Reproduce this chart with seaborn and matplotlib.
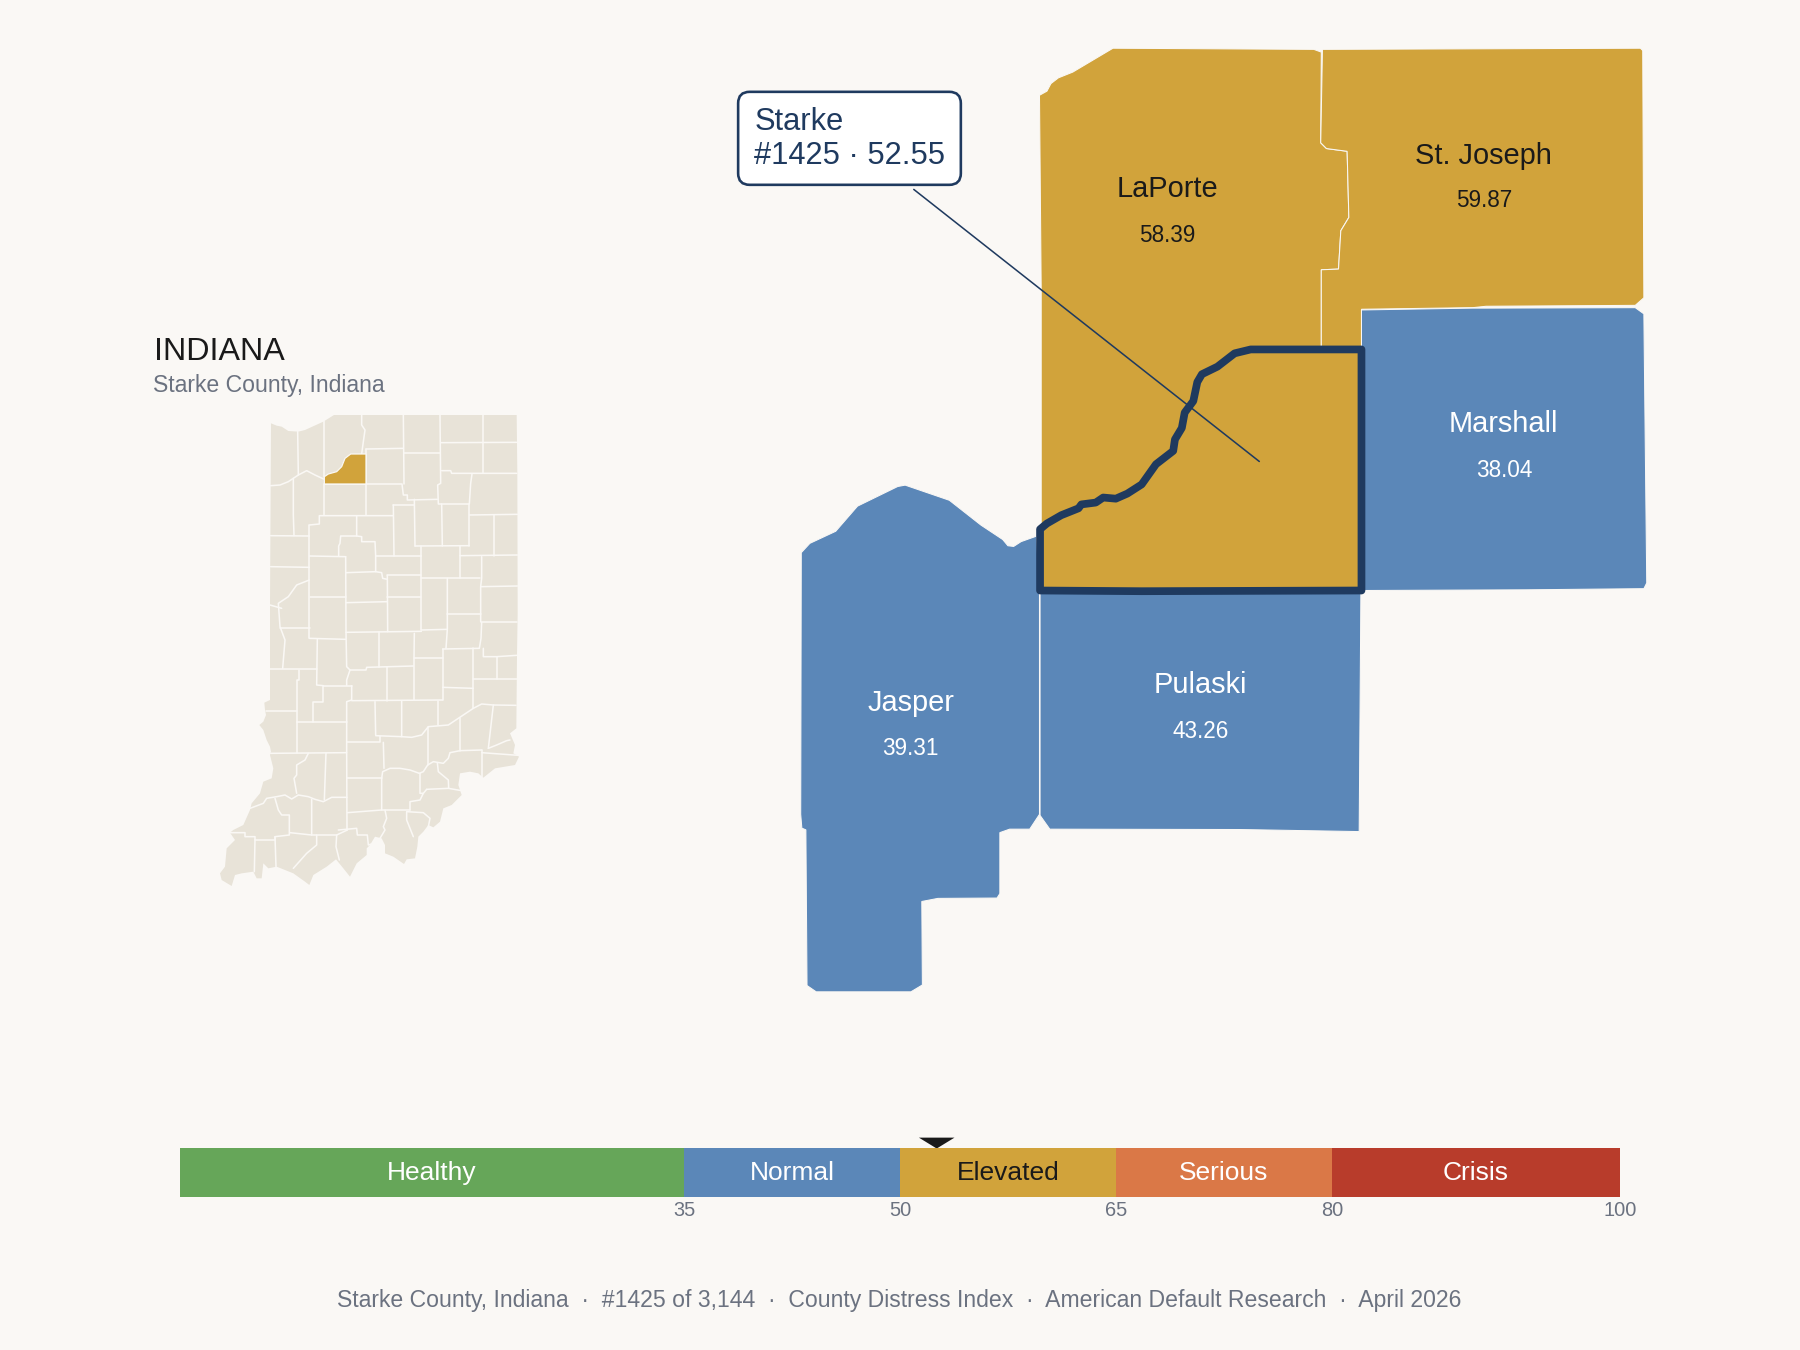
import matplotlib.pyplot as plt
import seaborn as sns

BG = '#FAF8F5'
GOLD = '#D1A33B'
BLUE = '#5B87B8'
NAVY = '#1F3A5F'
GREY = '#6B7280'
INK = '#1A1A1A'
STATE_FILL = '#E8E3D8'

# neighbour county shapes
laporte = [(969.5, 42), (1144.5, 43), (1151, 45.4), (1150.5, 124.4), (1155.5, 129.4), (1173.5, 131.8),
           (1175, 189.4), (1168, 201), (1166, 234.4), (1151, 235), (1151, 304), (1100, 350), (1050, 420),
           (950, 470), (907, 470), (907, 253), (905.5, 83), (912, 79.4), (915.5, 72.8), (922, 67.8), (934.5, 62.8)]
st_joseph = [(1152, 43), (1429, 42), (1431, 44), (1432, 259.4), (1424.5, 266), (1294.5, 266.8), (1283, 268),
             (1186, 269.4), (1186, 304), (1151, 304), (1151, 235), (1166, 234.4), (1168, 201), (1175, 189.4),
             (1173.5, 131.8), (1155.5, 129.4), (1150.5, 124.4)]
marshall = [(1186, 270), (1283, 268.4), (1294.5, 268.4), (1424.5, 268), (1432, 273.4), (1434.5, 507.8),
            (1432, 512.8), (1329, 513.8), (1186, 514.4)]
pulaski = [(906, 515), (1185.5, 515), (1184, 724.4), (1079.5, 722.6), (914.5, 722.3), (906, 710.3)]
jasper = [(698, 481.4), (705.5, 473.3), (728, 462.8), (747, 440.9), (782, 423.8), (788.5, 422.6), (827, 435.8),
          (854.5, 457.4), (873.5, 470), (878, 475.4), (883, 476), (889.5, 471.8), (903, 467), (905.5, 516),
          (905.5, 709.4), (897, 722.3), (879.5, 722.3), (871, 725.3), (871, 778.4), (868.5, 782.3), (817, 782.6),
          (803, 785.3), (803.5, 858), (793.5, 864), (711, 864), (703, 858.5), (702, 722.9), (698.5, 721.4),
          (697.5, 709.4)]
starke = [(906, 461), (912, 456), (924.5, 448.8), (939.5, 442.8), (942, 439.4), (954.5, 437.8), (961, 433.4),
          (972, 434.4), (982, 430), (994.5, 422), (1007, 404.4), (1022, 392.8), (1023.5, 382.8), (1029.5, 372.8),
          (1032, 359.4), (1039.5, 349.4), (1043, 332.8), (1047, 326), (1060.5, 319.4), (1075.5, 307.8),
          (1089.5, 304.4), (1186, 304.4), (1186, 514.4), (994.5, 515), (906, 514.4)]

names = ['LaPorte', 'St. Joseph', 'Marshall', 'Jasper', 'Pulaski']
scores = ['58.39', '59.87', '38.04', '39.31', '43.26']
shapes = [laporte, st_joseph, marshall, jasper, pulaski]
shape_colors = [GOLD, GOLD, BLUE, BLUE, BLUE]
text_colors = [INK, INK, 'white', 'white', 'white']
name_xy = [(1017, 164.5), (1292.5, 135.5), (1309.5, 369.5), (794, 612.5), (1045.5, 596.5)]
score_xy = [(1017, 205), (1293, 175), (1310, 410), (793, 652), (1046, 637)]

# state locator
state_outline = [(213, 70), (230, 77), (245, 80), (265, 93), (295, 95), (315, 90), (370, 65), (402, 45), (950, 45),
                 (952, 220), (953, 640), (951, 765), (949, 985), (930, 1000), (945, 1035), (940, 1060), (957, 1070),
                 (945, 1095), (885, 1105), (850, 1133), (835, 1120), (810, 1115), (780, 1120), (775, 1155), (785, 1185),
                 (755, 1215), (730, 1225), (720, 1265), (700, 1282), (685, 1275), (670, 1295), (655, 1310), (652, 1340),
                 (645, 1375), (620, 1378), (612, 1392), (580, 1370), (555, 1360), (555, 1335), (545, 1315), (525, 1310),
                 (510, 1335), (500, 1345), (500, 1365), (470, 1390), (450, 1430), (430, 1405), (408, 1378), (380, 1400),
                 (340, 1425), (328, 1455), (315, 1445), (280, 1420), (230, 1400), (205, 1405), (190, 1390), (185, 1435),
                 (170, 1435), (160, 1415), (125, 1420), (105, 1425), (95, 1458), (65, 1440), (60, 1420), (75, 1400),
                 (80, 1345), (105, 1320), (90, 1298), (100, 1290), (130, 1275), (150, 1230), (155, 1210), (180, 1180),
                 (190, 1145), (215, 1135), (220, 1105), (210, 1065), (213, 1055), (210, 1040), (200, 1020), (190, 990),
                 (178, 975), (190, 965), (198, 945), (195, 930), (193, 908), (210, 900), (210, 620)]
state_starke = [(373, 230), (385, 222), (410, 215), (425, 200), (435, 175), (452, 162), (498, 162), (498, 252), (373, 252)]
county_lines = [
    [(293, 95), (295, 225)], [(373, 63), (373, 230)],
    [(212, 257), (240, 255), (265, 245), (295, 225), (320, 212), (345, 225), (373, 238)],
    [(485, 45), (485, 75), (495, 90), (490, 125), (485, 162)], [(498, 147), (610, 145)],
    [(610, 45), (612, 252)], [(612, 160), (720, 160)], [(720, 45), (722, 250), (713, 255), (715, 312), (808, 312), (812, 250), (816, 222)],
    [(848, 45), (848, 220)], [(722, 128), (950, 127)], [(725, 212), (752, 212), (755, 220), (950, 220)],
    [(498, 147), (498, 345)], [(373, 252), (606, 252), (610, 285), (622, 285), (622, 300), (712, 298)],
    [(373, 252), (373, 345)], [(280, 235), (280, 345), (282, 407)], [(212, 407), (328, 408)],
    [(328, 375), (358, 372), (358, 347), (580, 347)], [(328, 375), (328, 715)], [(580, 315), (643, 315)],
    [(580, 315), (582, 468)], [(643, 298), (645, 438)], [(725, 312), (727, 438)], [(808, 312), (808, 438)],
    [(645, 438), (808, 437)], [(808, 345), (952, 343)], [(881, 345), (881, 467)], [(780, 467), (952, 465)],
    [(780, 438), (780, 535)], [(664, 438), (664, 690)],
    [(470, 347), (470, 408), (485, 410), (485, 425), (525, 425), (527, 468), (664, 468)],
    [(470, 408), (422, 408), (420, 430), (416, 438), (416, 468)], [(328, 468), (437, 470)],
    [(437, 470), (438, 695), (440, 800), (450, 810), (440, 840), (440, 856)], [(527, 468), (527, 515), (438, 518)],
    [(527, 515), (545, 518), (548, 535), (562, 538)], [(562, 526), (664, 526)], [(562, 526), (563, 695)],
    [(562, 592), (664, 592)], [(438, 608), (562, 605)], [(330, 592), (437, 592)], [(328, 715), (437, 718)],
    [(438, 697), (664, 694)], [(664, 690), (742, 688)], [(664, 535), (840, 535)],
    [(845, 470), (845, 535), (842, 560), (842, 665)], [(742, 535), (742, 688), (738, 745)], [(742, 642), (842, 642)],
    [(842, 560), (952, 558)], [(842, 667), (950, 667)], [(845, 667), (843, 715), (838, 745), (728, 747)],
    [(643, 700), (642, 775), (642, 900)], [(538, 697), (538, 800)], [(642, 775), (728, 775)], [(728, 747), (728, 900)],
    [(728, 862), (820, 865)], [(820, 745), (820, 925)], [(850, 745), (850, 770), (890, 770), (950, 766)],
    [(890, 770), (890, 838)], [(820, 838), (950, 838)], [(450, 810), (498, 810), (500, 802), (640, 798)],
    [(560, 800), (560, 902)], [(455, 857), (370, 857), (370, 905), (340, 905), (340, 965)],
    [(352, 718), (350, 855), (370, 857)], [(210, 808), (352, 808)], [(298, 810), (298, 840), (290, 840), (290, 965)],
    [(455, 857), (455, 900), (440, 905)], [(440, 905), (440, 1060), (441, 1290)], [(455, 902), (728, 900)],
    [(525, 905), (527, 1005)], [(605, 902), (605, 1010), (527, 1007)], [(713, 902), (713, 975)],
    [(198, 932), (290, 932)], [(290, 965), (440, 965)], [(290, 965), (290, 1058)], [(212, 1060), (440, 1058)],
    [(820, 925), (845, 912), (880, 915), (948, 916)],
    [(820, 925), (745, 975), (685, 980), (665, 1005), (635, 1012), (605, 1010)], [(880, 915), (865, 1045)],
    [(780, 955), (780, 1052)], [(683, 980), (683, 1095)], [(541, 1007), (541, 1027), (442, 1027)],
    [(550, 1027), (552, 1105)], [(442, 1135), (545, 1135)], [(865, 1045), (890, 1035), (920, 1022), (930, 1020)],
    [(845, 1050), (780, 1052), (750, 1058), (745, 1075), (730, 1090), (700, 1085), (683, 1095), (670, 1115), (658, 1120),
     (630, 1110), (600, 1105), (570, 1105), (548, 1115), (545, 1135), (545, 1230)],
    [(845, 1050), (845, 1130)], [(845, 1058), (955, 1066)], [(660, 1120), (660, 1180), (670, 1180), (660, 1200), (630, 1205), (630, 1230)],
    [(712, 1088), (715, 1115), (745, 1140), (746, 1165)], [(680, 1168), (745, 1165), (785, 1172)],
    [(670, 1180), (680, 1168)], [(630, 1230), (545, 1230), (442, 1238)],
    [(620, 1235), (620, 1260), (640, 1310)], [(620, 1235), (670, 1238), (690, 1255), (685, 1280)],
    [(555, 1230), (560, 1255), (550, 1280), (555, 1290), (540, 1315)], [(378, 1058), (373, 1200)],
    [(325, 1060), (315, 1080), (290, 1095), (290, 1125), (282, 1135), (290, 1180)],
    [(150, 1225), (190, 1210), (200, 1195), (230, 1190), (255, 1185), (275, 1197), (295, 1185), (325, 1190), (345, 1198),
     (370, 1205), (395, 1192), (441, 1192)],
    [(225, 1195), (235, 1230), (245, 1245), (268, 1245), (268, 1305), (225, 1310), (225, 1320), (165, 1320), (165, 1310),
     (135, 1310), (135, 1298), (90, 1298)],
    [(335, 1198), (335, 1305), (270, 1298)], [(335, 1305), (410, 1305), (442, 1290)], [(165, 1318), (163, 1415)],
    [(225, 1310), (228, 1400)], [(350, 1305), (350, 1335), (320, 1360), (280, 1405)], [(410, 1305), (408, 1340), (418, 1380)],
    [(415, 1290), (470, 1285), (472, 1305), (502, 1305), (505, 1335), (520, 1330)],
    [(328, 540), (290, 555), (265, 590), (235, 610), (240, 680), (255, 720), (248, 805)], [(212, 500), (328, 502)],
    [(210, 615), (245, 625)], [(240, 685), (330, 685)],
]

# severity scale
band_labels = ['Healthy', 'Normal', 'Elevated', 'Serious', 'Crisis']
band_edges = [0, 35, 50, 65, 80, 100]
band_colors = ['#66A659', BLUE, GOLD, '#DA7847', '#B83C2B']
band_text = ['white', 'white', INK, 'white', 'white']
tick_values = [35, 50, 65, 80, 100]
county_score = 52.55

sns.set_theme(style='white')
plt.rcParams['font.family'] = ['Liberation Sans', 'DejaVu Sans']

fig = plt.figure(figsize=(12, 9), dpi=150, facecolor=BG)

# main axes in picture units so the map shapes sit where they were read
ax = fig.add_axes([0, 0, 1, 1])
ax.set_xlim(0, 1568)
ax.set_ylim(1176, 0)
ax.axis('off')

for shape, color in zip(shapes, shape_colors):
    ax.fill(*zip(*shape), facecolor=color, edgecolor=BG, linewidth=0.5, zorder=2)
ax.fill(*zip(*starke), facecolor=GOLD, edgecolor=NAVY, linewidth=3.7, joinstyle='round', zorder=3)
ax.plot([796, 1097], [165, 402], color=NAVY, linewidth=0.75, zorder=4)

for name, score, nxy, sxy, color in zip(names, scores, name_xy, score_xy, text_colors):
    ax.text(*nxy, name, fontsize=13.9, color=color, ha='center', va='center', zorder=5)
    ax.text(*sxy, score, fontsize=10.8, color=color, ha='center', va='center', zorder=5)

ax.add_patch(plt.matplotlib.patches.FancyBboxPatch(
    (652, 89), 176, 63, boxstyle='round,pad=9,rounding_size=10',
    facecolor='white', edgecolor=NAVY, linewidth=1.25, zorder=5))
ax.text(657, 106, 'Starke', fontsize=14.8, color=NAVY, va='center', zorder=6)
ax.text(657, 135.5, '#1425 · 52.55', fontsize=14.8, color=NAVY, va='center', zorder=6)

ax.text(134, 307, 'INDIANA', fontsize=15.5, color=INK, va='center')
ax.text(133, 336, 'Starke County, Indiana', fontsize=11.05, color=GREY, va='center')
ax.text(783.5, 1133, '  ·  '.join(['Starke County, Indiana', '#1425 of 3,144', 'County Distress Index',
                                   'American Default Research', 'April 2026']),
        fontsize=11.03, color=GREY, ha='center', va='center')

# score pointer
marker_x = 157 + county_score / 100 * 1254
ax.fill([marker_x - 15.5, marker_x + 15.5, marker_x], [991, 991, 1000.5], facecolor=INK, edgecolor='none', zorder=6)

# locator map
loc = fig.add_axes([200 / 1800, 1 - 900 / 1350, 340 / 1800, 500 / 1350])
loc.set_xlim(0, 1020)
loc.set_ylim(1500, 0)
loc.axis('off')
loc.fill(*zip(*state_outline), facecolor=STATE_FILL, edgecolor='none')
for line in county_lines:
    loc.plot(*zip(*line), color=BG, linewidth=0.75, solid_joinstyle='round', clip_on=True)
loc.fill(*zip(*state_starke), facecolor=GOLD, edgecolor=BG, linewidth=0.6, zorder=3)

# scale bar
bar = fig.add_axes([157 / 1568, 1 - 1043 / 1176, 1254 / 1568, 43 / 1176], facecolor='none')
for i, label in enumerate(band_labels):
    start, end = band_edges[i], band_edges[i + 1]
    sns.barplot(x=[end - start], y=['scale'], left=start, color=band_colors[i], saturation=1,
                width=1, errorbar=None, linewidth=0, ax=bar)
    bar.text((start + end) / 2, 0, label, fontsize=12.7, color=band_text[i], ha='center', va='center')
bar.set_xlim(0, 100)
bar.set_ylim(0.5, -0.5)
bar.set_xlabel('')
bar.set_ylabel('')
bar.set_yticks([])
bar.set_xticks(tick_values)
bar.tick_params(axis='x', length=0, pad=1.6, labelsize=9.6, labelcolor=GREY)
sns.despine(ax=bar, left=True, bottom=True)

fig.savefig('out.png', dpi=150, facecolor=BG)
